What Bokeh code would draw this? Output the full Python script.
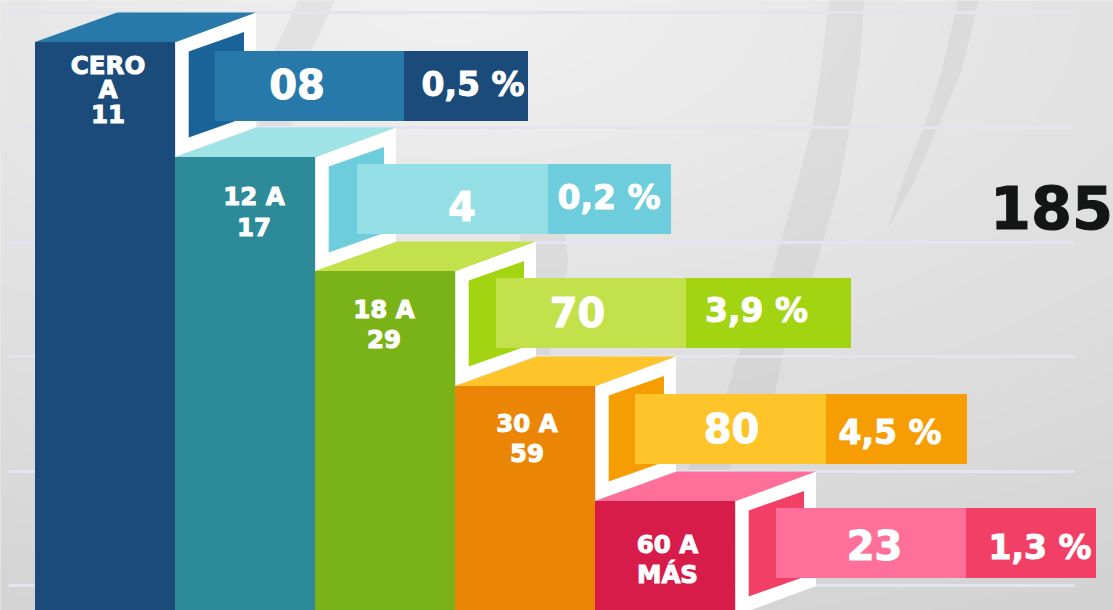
import numpy as np
from bokeh.core.properties import value
from bokeh.embed import file_html
from bokeh.models import Range1d
from bokeh.plotting import figure
from bokeh.resources import INLINE

# ---- data ----
age_lines = [["CERO", "A", "11"], ["12 A", "17"], ["18 A", "29"], ["30 A", "59"], ["60 A", "MÁS"]]
counts = ["08", "4", "70", "80", "23"]
percents = ["0,5 %", "0,2 %", "3,9 %", "4,5 %", "1,3 %"]
total = "185"

# ---- styles ----
front_colors = ["#1b4b7a", "#2c8a99", "#7ab317", "#eb8505", "#d71c4a"]
top_colors = ["#2779a9", "#9fe3e7", "#c2e14a", "#fec42a", "#fe7099"]
box_colors = ["#2779a9", "#93dfe5", "#c2e14a", "#fec42a", "#fe7099"]
inner_colors = ["#1a6399", "#6dcddc", "#a2d411", "#f69d03", "#f13f65"]
pct_colors = ["#1b4b7a", "#6dcddc", "#a2d411", "#f69d03", "#f13f65"]

# ---- layout (page pixels) ----
W, H = 1113, 610
bar_left = [35, 175, 315, 455, 595]
bar_top = [42, 157, 271, 386, 501]
box_left = [215, 357, 496, 635, 776]
box_top = [51, 164, 278, 394, 508]
box_split = [404, 548, 686, 826, 966]
box_right = [528, 671, 851, 967, 1096]
count_x = [297, 462, 577.5, 731.5, 874.5]
count_y = [85.5, 207, 313, 429, 546]
pct_x = [473, 609, 756.5, 890, 1040]
pct_y = [85, 198, 311, 433, 548]
label_x = [108, 254, 384, 527, 667.5]
label_y = [[66, 90.5, 115], [197.5, 228], [310, 340], [424, 454], [545, 575]]
grid_y = [12.5, 127.5, 242.5, 356.5, 471.5, 585.5]

swooshes = [
    ([829, 864, 860, 850, 838, 823, 812, 786, 775, 731, 700, 650, 690, 726, 743, 770, 781, 798, 812, 822],
     [0, 0, 60, 127, 190, 242, 278, 340, 394, 464, 610, 610, 464, 394, 340, 278, 242, 180, 127, 60]),
    ([958, 979, 962, 938, 915, 887, 905, 924, 942], [0, 0, 70, 127, 180, 230, 175, 127, 70]),
    ([298, 335, 312, 291, 290, 256, 258, 275], [0, 0, 50, 125, 135, 135, 125, 50]),
    ([519, 565, 568, 562, 543, 535, 519], [225, 234, 260, 310, 375, 375, 225]),
]

p = figure(width=W, height=H, x_range=Range1d(0.5, W + 0.5), y_range=Range1d(H + 0.5, 0.5),
           toolbar_location=None, output_backend="svg", min_border=0,
           x_axis_type=None, y_axis_type=None)
p.extra_y_ranges = {"img": Range1d(0, H)}
p.grid.visible = False
p.outline_line_color = None
p.background_fill_color = "#e0e0e0"
p.border_fill_color = None
p.styles = {"position": "absolute", "left": "0", "top": "0"}

# background gradient (row 0 of the array is the bottom of the picture)
yy, xx = np.mgrid[H - 1:-1:-1, 0:W]
level = 241 - np.sqrt(((xx - 450) / 45.0) ** 2 + (yy / 22.6) ** 2)
level = np.clip(level, 0, 255).astype(np.uint32)
img = (255 << 24) | (level << 16) | (level << 8) | level
p.image_rgba(image=[img.astype(np.uint32)], x=0, y=0, dw=W, dh=H, y_range_name="img")

# swooshes
for sx, sy in swooshes:
    p.patch(sx, sy, fill_color="#000000", fill_alpha=0.045, line_color=None)

# grid lines
p.segment(x0=[8.5] * len(grid_y), x1=[1075] * len(grid_y), y0=grid_y, y1=grid_y,
          line_color="#e2e4f0", line_width=3)

# columns
for i in range(5):
    L, T = bar_left[i], bar_top[i]
    R = L + 140
    # frame
    p.patch([R + 1, R + 81, R + 81, R + 1], [T, T - 29.5, T + 85, T + 114.5],
            fill_color="#ffffff", line_color=None)
    p.patch([R + 13.7, R + 69, R + 69, R + 13.7], [T + 9.5, T - 10, T + 76, T + 95.5],
            fill_color=inner_colors[i], line_color=None)
    # top face
    p.patch([L, L + 82, R + 81, R + 1], [T, T - 29.5, T - 29.5, T],
            fill_color=top_colors[i], line_color=None)
    # front
    p.quad(left=[L], right=[R], top=[T], bottom=[H + 1], fill_color=front_colors[i], line_color=None)

# value boxes
p.quad(left=box_left, right=box_split, top=box_top, bottom=[t + 70 for t in box_top],
       fill_color=box_colors, line_color=None)
p.quad(left=box_split, right=box_right, top=box_top, bottom=[t + 70 for t in box_top],
       fill_color=pct_colors, line_color=None)

FONT = value("DejaVu Sans")


def label(x, y, txt, size, color="#ffffff"):
    p.text(x=x, y=[v - 0.03 * size for v in y], text=txt, text_font=FONT, text_font_style="bold",
           text_font_size=f"{size}px", text_color=color, text_outline_color=color,
           text_align="center", text_baseline="alphabetic")


label(count_x, count_y, counts, 40)
label(pct_x, pct_y, percents, 33)
for i in range(5):
    label([label_x[i]] * len(age_lines[i]), label_y[i], age_lines[i], 24.5)
label([1051.5], [209], [total], 59, color="#141616")

open("out.html", "w").write(file_html(p, INLINE))
